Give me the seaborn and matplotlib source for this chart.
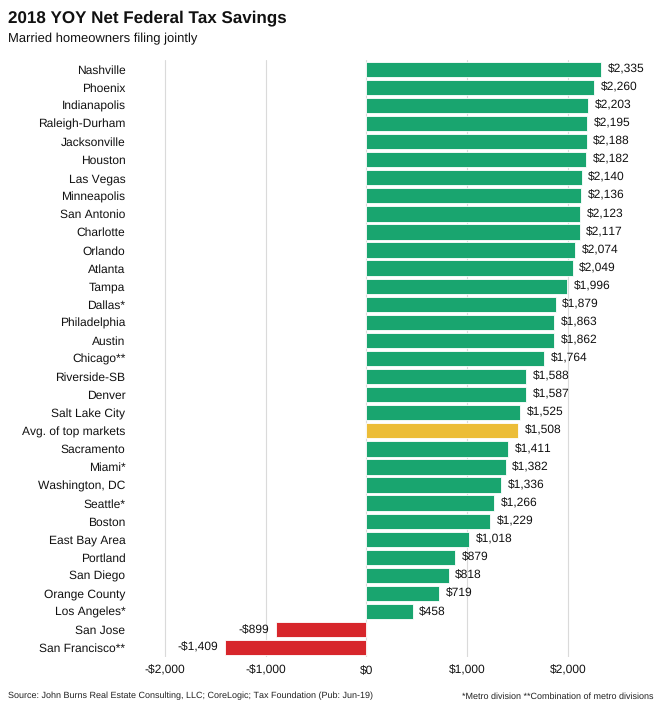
import matplotlib
matplotlib.use("Agg")
import matplotlib.pyplot as plt
import seaborn as sns
import pandas as pd

cities = ["Nashville", "Phoenix", "Indianapolis", "Raleigh-Durham", "Jacksonville", "Houston",
          "Las Vegas", "Minneapolis", "San Antonio", "Charlotte", "Orlando", "Atlanta", "Tampa",
          "Dallas*", "Philadelphia", "Austin", "Chicago**", "Riverside-SB", "Denver",
          "Salt Lake City", "Avg. of top markets", "Sacramento", "Miami*", "Washington, DC",
          "Seattle*", "Boston", "East Bay Area", "Portland", "San Diego", "Orange County",
          "Los Angeles*", "San Jose", "San Francisco**"]
savings = [2335, 2260, 2203, 2195, 2188, 2182, 2140, 2136, 2123, 2117, 2074, 2049, 1996,
           1879, 1863, 1862, 1764, 1588, 1587, 1525, 1508, 1411, 1382, 1336, 1266, 1229,
           1018, 879, 818, 719, 458, -899, -1409]
xticks = [-2000, -1000, 0, 1000, 2000]
xtick_labels = ["-$2,000", "-$1,000", "$0", "$1,000", "$2,000"]

GREEN = "#19A56F"
RED = "#D7262B"
YELLOW = "#ECBD37"

def color_for(c, v):
    if c.startswith("Avg."):
        return YELLOW
    return RED if v < 0 else GREEN

df = pd.DataFrame({"city": cities, "savings": savings})
palette = {c: color_for(c, v) for c, v in zip(cities, savings)}

sns.set_style("white")
plt.rcParams["font.family"] = ["Liberation Sans", "DejaVu Sans"]
plt.rcParams["text.hinting"] = "no_hinting"
plt.rcParams["text.hinting_factor"] = 1

FS = 8.5
fig = plt.figure(figsize=(6.6, 7.17), dpi=100)
ax = fig.add_axes([0.1985, 0.084, 0.741, 0.832])

sns.barplot(data=df, y="city", x="savings", hue="city", palette=palette, order=cities,
            legend=False, width=0.85, saturation=1, edgecolor="white", linewidth=0.6,
            ax=ax, zorder=3)

ax.set_xlim(-2340, 2520)
ax.set_ylim(len(cities) - 0.5, -0.5)
ax.set_xticks(xticks)
ax.set_xticklabels(xtick_labels, fontsize=FS)
ax.tick_params(axis="y", labelsize=FS, length=0, pad=4, labelcolor="#111111")
ax.tick_params(axis="x", length=0, pad=6, labelcolor="#111111")
ax.set_xlabel("")
ax.set_ylabel("")
for s in ax.spines.values():
    s.set_visible(False)
for x in xticks:
    ax.axvline(x, color="#DADADA", linewidth=0.8, zorder=0)

for i, v in enumerate(savings):
    lab = f"${v:,}" if v >= 0 else f"-${abs(v):,}"
    if v >= 0:
        ax.text(v + 65, i, lab, va="center", ha="left", fontsize=FS, color="#111111")
    else:
        ax.text(v - 65, i, lab, va="center", ha="right", fontsize=FS, color="#111111")

fig.text(0.012, 0.975, "2018 YOY Net Federal Tax Savings", fontsize=12.5, fontweight="bold",
         va="center", ha="left", color="#111111")
fig.text(0.012, 0.945, "Married homeowners filing jointly", fontsize=9.5, va="center",
         ha="left", color="#111111")
fig.text(0.012, 0.029, "Source: John Burns Real Estate Consulting, LLC; CoreLogic; Tax Foundation (Pub: Jun-19)",
         fontsize=6.8, va="center", ha="left", color="#222222")
fig.text(0.99, 0.029, "*Metro division **Combination of metro divisions",
         fontsize=6.8, va="center", ha="right", color="#222222")

fig.savefig("out.png", dpi=100)
